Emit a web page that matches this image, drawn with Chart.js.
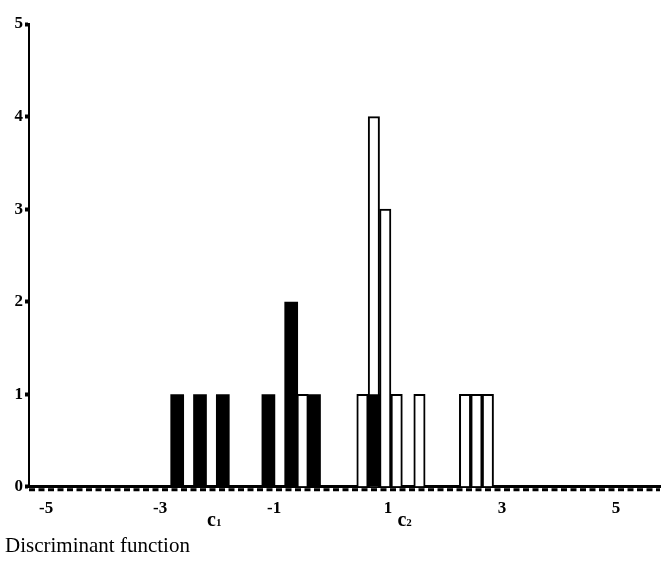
<!DOCTYPE html>
<html>
<head>
<meta charset="utf-8">
<script src="https://cdn.jsdelivr.net/npm/chart.js@4"></script>
<style>
  body { margin: 0; background: #fff; }
  #wrap { width: 662px; height: 561px; }
</style>
</head>
<body>
<div id="wrap"><canvas id="histChart"></canvas></div>
<script>
'use strict';

// bin centres (discriminant score) and counts for each group
let groupOneBins = [-2.7, -2.3, -1.9, -1.1, -0.7, -0.3, 0.75];
let groupOneCounts = [1, 1, 1, 1, 2, 1, 1];
let groupTwoBins = [-0.5, 0.55, 0.75, 0.95, 1.15, 1.55, 2.35, 2.55, 2.75];
let groupTwoCounts = [1, 1, 4, 3, 1, 1, 1, 1, 1];

let xTicks = [-5, -3, -1, 1, 3, 5];
let yTicks = [0, 1, 2, 3, 4, 5];

// cut-off points marked under the axis
let cutoffNames = ['c', 'c'];
let cutoffSubs = ['1', '2'];
let cutoffValues = [-2.02, 1.32];

let serif = '"Liberation Serif", "DejaVu Serif", serif';

function toPoints(bins, counts) {
  let points = [];
  for (let i = 0; i < bins.length; i++) {
    points.push({ x: bins[i], y: counts[i] });
  }
  return points;
}

// dashed strip under the x axis + the c1 / c2 marks
let axisExtras = {
  id: 'axisExtras',
  afterDraw(chart) {
    let ctx = chart.ctx;
    let area = chart.chartArea;
    let xScale = chart.scales.x;
    ctx.save();
    ctx.strokeStyle = '#000';
    ctx.lineWidth = 3;
    ctx.setLineDash([6, 3.5]);
    ctx.beginPath();
    ctx.moveTo(area.left, area.bottom + 3);
    ctx.lineTo(area.right, area.bottom + 3);
    ctx.stroke();
    ctx.setLineDash([]);

    ctx.fillStyle = '#000';
    ctx.textBaseline = 'alphabetic';
    for (let i = 0; i < cutoffValues.length; i++) {
      let px = xScale.getPixelForValue(cutoffValues[i]);
      ctx.font = 'bold 20px ' + serif;
      let w = ctx.measureText(cutoffNames[i]).width;
      ctx.textAlign = 'left';
      ctx.fillText(cutoffNames[i], px - w, area.bottom + 39);
      ctx.font = 'bold 11px ' + serif;
      ctx.fillText(cutoffSubs[i], px, area.bottom + 39);
    }
    ctx.restore();
  }
};

const ctx = document.getElementById('histChart');

let config = {
  type: 'bar',
  data: {
    datasets: [
      {
        label: 'Group 1',
        data: toPoints(groupOneBins, groupOneCounts),
        backgroundColor: '#000',
        borderWidth: 0,
        barPercentage: 1.2,
        categoryPercentage: 1,
        grouped: false,
        order: 0
      },
      {
        label: 'Group 2',
        data: toPoints(groupTwoBins, groupTwoCounts),
        backgroundColor: '#fff',
        borderColor: '#000',
        borderWidth: 2,
        barPercentage: 1,
        categoryPercentage: 1,
        grouped: false,
        order: 1
      }
    ]
  },
  options: {
    responsive: true,
    maintainAspectRatio: false,
    animation: false,
    layout: {
      padding: { top: 24, left: 5, right: 2, bottom: 0 }
    },
    plugins: {
      legend: { display: false },
      tooltip: { enabled: false },
      title: {
        display: true,
        text: 'Discriminant function',
        position: 'bottom',
        align: 'start',
        color: '#000',
        font: { family: serif, size: 21, weight: 'normal' },
        padding: { top: 8, bottom: 2 }
      }
    },
    scales: {
      x: {
        type: 'linear',
        offset: false,
        min: -5.3,
        max: 5.77,
        afterBuildTicks: function (axis) {
          axis.ticks = xTicks.map(v => ({ value: v }));
        },
        afterFit: function (axis) {
          axis.height = 39;
        },
        border: { color: '#000', width: 3 },
        grid: { display: false, offset: false },
        ticks: {
          color: '#000',
          font: { family: serif, size: 17, weight: 'bold' },
          padding: 4,
          maxRotation: 0,
          autoSkip: false
        }
      },
      y: {
        min: 0,
        max: 5,
        afterBuildTicks: function (axis) {
          axis.ticks = yTicks.map(v => ({ value: v }));
        },
        afterFit: function (axis) {
          axis.width = 24;
        },
        border: { color: '#000', width: 2 },
        grid: {
          drawOnChartArea: false,
          color: '#000',
          tickColor: '#000',
          tickLength: 4,
          tickWidth: 4
        },
        ticks: {
          color: '#000',
          font: { family: serif, size: 17, weight: 'bold' },
          padding: 2
        }
      }
    }
  },
  plugins: [axisExtras]
};

let myChart = new Chart(ctx, config);
</script>
</body>
</html>
